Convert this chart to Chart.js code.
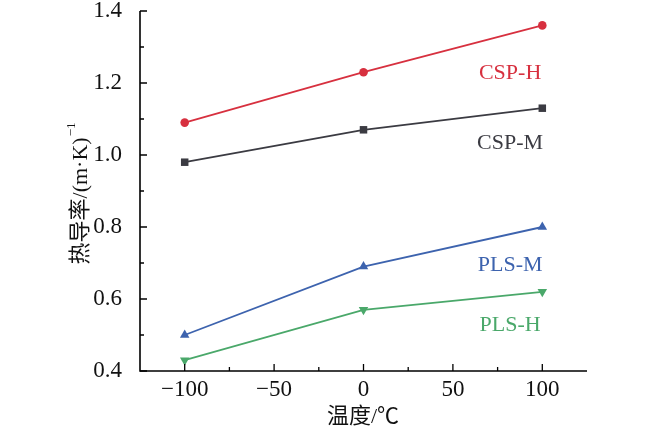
<!DOCTYPE html>
<html>
<head>
<meta charset="utf-8">
<script src="https://cdn.jsdelivr.net/npm/chart.js@4"></script>
<style>
  html, body { margin: 0; padding: 0; background: #fff; }
  #wrap { width: 650px; height: 433px; }
</style>
</head>
<body>
<div id="wrap"><canvas id="charts"></canvas></div>
<script>
// temperature points (°C) and thermal conductivity per sample
const temps = [-100, 0, 100];
const cspH = [1.09, 1.23, 1.36];
const cspM = [0.98, 1.07, 1.13];
const plsM = [0.50, 0.69, 0.80];
const plsH = [0.43, 0.57, 0.62];
const seriesNames = ['CSP-H', 'CSP-M', 'PLS-M', 'PLS-H'];
// where each series name is written, in data units
const nameX = 82;
const nameY = [1.228, 1.033, 0.694, 0.528];

const xTicks = [-100, -50, 0, 50, 100];
const xMinor = [-75, -25, 25, 75];
const yTicks = [0.4, 0.6, 0.8, 1.0, 1.2, 1.4];
const yMinor = [0.5, 0.7, 0.9, 1.1, 1.3];

const serif = "'Liberation Serif', 'DejaVu Serif', serif";
const cjk = "'Liberation Serif', 'Noto Sans CJK SC', serif";

const toPoints = (vals) => vals.map((v, i) => ({ x: temps[i], y: v }));

const styles = [
  { color: '#d7303f', point: 'circle', radius: 4.3, rotation: 0 },
  { color: '#3b3b42', point: 'rect', radius: 5.3, rotation: 0 },
  { color: '#3d63ae', point: 'triangle', radius: 5.5, rotation: 0 },
  { color: '#4aa86a', point: 'triangle', radius: 5.5, rotation: 180 },
];
const values = [cspH, cspM, plsM, plsH];

// kill the automatic label overhang padding so the plot box is exact
const noPad = (s) => { s.paddingTop = 0; s.paddingBottom = 0; s.paddingLeft = 0; s.paddingRight = 0; };

// axes lines, inward ticks, titles and series names
const decor = {
  id: 'decor',
  afterDraw(chart) {
    const { ctx, chartArea: a, scales: { x, y } } = chart;
    ctx.save();
    ctx.strokeStyle = '#000';
    ctx.lineWidth = 1.6;
    ctx.beginPath();
    ctx.moveTo(a.left, a.top);
    ctx.lineTo(a.left, a.bottom);
    ctx.lineTo(a.right, a.bottom);
    ctx.stroke();

    ctx.lineWidth = 1.3;
    ctx.beginPath();
    xTicks.forEach(v => { const p = x.getPixelForValue(v); ctx.moveTo(p, a.bottom); ctx.lineTo(p, a.bottom - 7); });
    xMinor.forEach(v => { const p = x.getPixelForValue(v); ctx.moveTo(p, a.bottom); ctx.lineTo(p, a.bottom - 4); });
    yTicks.forEach(v => { const p = y.getPixelForValue(v); ctx.moveTo(a.left, p); ctx.lineTo(a.left + 7, p); });
    yMinor.forEach(v => { const p = y.getPixelForValue(v); ctx.moveTo(a.left, p); ctx.lineTo(a.left + 4, p); });
    ctx.stroke();

    // x title
    ctx.fillStyle = '#111';
    ctx.textAlign = 'center';
    ctx.textBaseline = 'middle';
    ctx.font = '22px ' + cjk;
    ctx.fillText('温度/℃', 363, 417);

    // y title, rotated, with superscript -1
    ctx.save();
    ctx.translate(81, 194);
    ctx.rotate(-Math.PI / 2);
    const main = '热导率/(m·K)';
    ctx.font = '13px ' + serif;
    const supW = ctx.measureText('\u22121').width;
    ctx.font = '22px ' + cjk;
    const mainW = ctx.measureText(main).width;
    const start = -(mainW + supW) / 2;
    ctx.textAlign = 'left';
    ctx.fillText(main, start, 0);
    ctx.font = '13px ' + serif;
    ctx.fillText('\u22121', start + mainW + 1, -9);
    ctx.restore();

    // series names
    ctx.font = '22px ' + serif;
    ctx.textAlign = 'center';
    seriesNames.forEach((n, i) => {
      ctx.fillStyle = styles[i].color;
      ctx.fillText(n, x.getPixelForValue(nameX), y.getPixelForValue(nameY[i]));
    });
    ctx.restore();
  }
};

const ctx = document.getElementById('charts').getContext('2d');
new Chart(ctx, {
  type: 'line',
  data: {
    datasets: values.map((vals, i) => ({
      label: seriesNames[i],
      data: toPoints(vals),
      borderColor: styles[i].color,
      backgroundColor: styles[i].color,
      borderWidth: 1.8,
      pointStyle: styles[i].point,
      pointRadius: styles[i].radius,
      pointRotation: styles[i].rotation,
      pointBorderWidth: 0,
      tension: 0,
    })),
  },
  options: {
    responsive: true,
    maintainAspectRatio: false,
    animation: false,
    layout: { padding: { top: 11, right: 63, left: 0, bottom: 0 } },
    plugins: { legend: { display: false }, tooltip: { enabled: false } },
    scales: {
      x: {
        type: 'linear',
        min: -125,
        max: 125,
        afterBuildTicks: (s) => { s.ticks = xTicks.map(v => ({ value: v })); },
        afterFit: (s) => { s.height = 62; noPad(s); },
        grid: { display: false },
        border: { display: false },
        ticks: {
          padding: -3,
          color: '#111',
          font: { family: serif, size: 23 },
          callback: (v) => (v < 0 ? '\u2212' + Math.abs(v) : String(v)),
        },
      },
      y: {
        min: 0.4,
        max: 1.4,
        afterBuildTicks: (s) => { s.ticks = yTicks.map(v => ({ value: v })); },
        afterFit: (s) => { s.width = 140; noPad(s); },
        grid: { display: false },
        border: { display: false },
        ticks: {
          padding: 10,
          color: '#111',
          font: { family: serif, size: 23 },
          callback: (v) => Number(v).toFixed(1),
        },
      },
    },
  },
  plugins: [decor],
});
</script>
</body>
</html>
